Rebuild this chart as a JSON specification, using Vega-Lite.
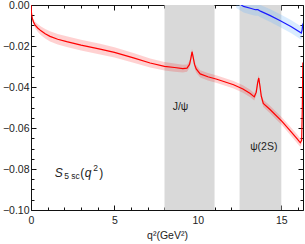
{
  "$schema": "https://vega.github.io/schema/vega-lite/v6.json",
  "width": 272,
  "height": 205,
  "autosize": {"type": "none"},
  "padding": {"left": 31, "top": 5, "right": 2, "bottom": 34},
  "config": {
    "view": {"stroke": "#111", "strokeWidth": 1},
    "font": "Liberation Sans",
    "axis": {"grid": false, "domain": false, "tickColor": "#111", "labelFont": "Liberation Sans", "labelColor": "#222", "labelFontSize": 10.5, "titleFont": "Liberation Sans", "titleFontWeight": "normal", "titleColor": "#222", "titleFontSize": 10.5, "labelFlush": false, "labelOverlap": false, "labelBound": false}
  },
  "datasets": {
    "red": [
      {"q2": 0, "y": 0, "lo": 0, "hi": 0},
      {"q2": 0.03, "y": -0.0040, "lo": -0.0046, "hi": -0.0034},
      {"q2": 0.08, "y": -0.0065, "lo": -0.0075, "hi": -0.0055},
      {"q2": 0.15, "y": -0.0083, "lo": -0.0096, "hi": -0.0070},
      {"q2": 0.25, "y": -0.0098, "lo": -0.0114, "hi": -0.0082},
      {"q2": 0.4, "y": -0.0112, "lo": -0.0131, "hi": -0.0093},
      {"q2": 0.6, "y": -0.0126, "lo": -0.0147, "hi": -0.0105},
      {"q2": 0.85, "y": -0.0140, "lo": -0.0163, "hi": -0.0117},
      {"q2": 1.14, "y": -0.0153, "lo": -0.0178, "hi": -0.0128},
      {"q2": 1.6, "y": -0.0167, "lo": -0.0193, "hi": -0.0141},
      {"q2": 2.14, "y": -0.0179, "lo": -0.0205, "hi": -0.0153},
      {"q2": 3.0, "y": -0.0196, "lo": -0.0222, "hi": -0.0170},
      {"q2": 4.14, "y": -0.0215, "lo": -0.0241, "hi": -0.0189},
      {"q2": 5.0, "y": -0.0231, "lo": -0.0256, "hi": -0.0206},
      {"q2": 6.14, "y": -0.0258, "lo": -0.0282, "hi": -0.0234},
      {"q2": 7.14, "y": -0.0283, "lo": -0.0305, "hi": -0.0261},
      {"q2": 8.0, "y": -0.0299, "lo": -0.0320, "hi": -0.0278},
      {"q2": 8.6, "y": -0.0305, "lo": -0.0325, "hi": -0.0285},
      {"q2": 9.1, "y": -0.0310, "lo": -0.0329, "hi": -0.0291},
      {"q2": 9.35, "y": -0.0308, "lo": -0.0326, "hi": -0.0290},
      {"q2": 9.5, "y": -0.0290, "lo": -0.0307, "hi": -0.0273},
      {"q2": 9.58, "y": -0.0260, "lo": -0.0276, "hi": -0.0244},
      {"q2": 9.65, "y": -0.0228, "lo": -0.0243, "hi": -0.0213},
      {"q2": 9.72, "y": -0.0255, "lo": -0.0271, "hi": -0.0239},
      {"q2": 9.8, "y": -0.0290, "lo": -0.0307, "hi": -0.0273},
      {"q2": 9.9, "y": -0.0312, "lo": -0.0330, "hi": -0.0294},
      {"q2": 10.14, "y": -0.0336, "lo": -0.0354, "hi": -0.0318},
      {"q2": 10.6, "y": -0.0350, "lo": -0.0368, "hi": -0.0332},
      {"q2": 11.14, "y": -0.0362, "lo": -0.0380, "hi": -0.0344},
      {"q2": 12.14, "y": -0.0389, "lo": -0.0407, "hi": -0.0371},
      {"q2": 12.7, "y": -0.0410, "lo": -0.0428, "hi": -0.0392},
      {"q2": 13.14, "y": -0.0432, "lo": -0.0450, "hi": -0.0414},
      {"q2": 13.38, "y": -0.0448, "lo": -0.0466, "hi": -0.0430},
      {"q2": 13.5, "y": -0.0425, "lo": -0.0442, "hi": -0.0408},
      {"q2": 13.58, "y": -0.0380, "lo": -0.0396, "hi": -0.0364},
      {"q2": 13.65, "y": -0.0356, "lo": -0.0371, "hi": -0.0341},
      {"q2": 13.72, "y": -0.0395, "lo": -0.0411, "hi": -0.0379},
      {"q2": 13.8, "y": -0.0445, "lo": -0.0462, "hi": -0.0428},
      {"q2": 13.92, "y": -0.0480, "lo": -0.0498, "hi": -0.0462},
      {"q2": 14.34, "y": -0.0511, "lo": -0.0529, "hi": -0.0493},
      {"q2": 15.04, "y": -0.0568, "lo": -0.0587, "hi": -0.0549},
      {"q2": 15.5, "y": -0.0610, "lo": -0.0630, "hi": -0.0590},
      {"q2": 15.94, "y": -0.0652, "lo": -0.0673, "hi": -0.0631},
      {"q2": 16.14, "y": -0.0672, "lo": -0.0693, "hi": -0.0651},
      {"q2": 16.22, "y": -0.0660, "lo": -0.0681, "hi": -0.0639},
      {"q2": 16.26, "y": -0.0500, "lo": -0.0521, "hi": -0.0479},
      {"q2": 16.29, "y": -0.0280, "lo": -0.0301, "hi": -0.0259}
    ],
    "blue": [
      {"q2": 12.3, "y": 0.0015, "lo": -0.0015, "hi": 0.0045},
      {"q2": 12.74, "y": -0.0007, "lo": -0.0037, "hi": 0.0023},
      {"q2": 13.2, "y": -0.0017, "lo": -0.0047, "hi": 0.0013},
      {"q2": 13.45, "y": -0.0023, "lo": -0.0053, "hi": 0.0007},
      {"q2": 13.6, "y": -0.0023, "lo": -0.0053, "hi": 0.0007},
      {"q2": 13.75, "y": -0.0030, "lo": -0.0060, "hi": 0.0000},
      {"q2": 14.34, "y": -0.0052, "lo": -0.0083, "hi": -0.0021},
      {"q2": 14.94, "y": -0.0077, "lo": -0.0109, "hi": -0.0045},
      {"q2": 15.6, "y": -0.0106, "lo": -0.0138, "hi": -0.0074},
      {"q2": 16.2, "y": -0.0137, "lo": -0.0169, "hi": -0.0105},
      {"q2": 16.25, "y": -0.0120, "lo": -0.0152, "hi": -0.0088},
      {"q2": 16.29, "y": -0.0090, "lo": -0.0122, "hi": -0.0058}
    ]
  },
  "resolve": {"axis": {"x": "independent", "y": "independent"}},
  "layer": [
    {
      "data": {"values": [{"a": 8, "b": 11}, {"a": 12.5, "b": 15}]},
      "mark": {"type": "rect", "color": "#d9d9d9"},
      "encoding": {
        "x": {"field": "a", "type": "quantitative", "scale": {"domain": [0, 16.3], "nice": false, "zero": false}, "axis": null},
        "x2": {"field": "b"}
      }
    },
    {
      "data": {"name": "red"},
      "mark": {"type": "area", "color": "#ff0000", "opacity": 0.18, "clip": true},
      "encoding": {
        "x": {"field": "q2", "type": "quantitative", "scale": {"domain": [0, 16.3], "nice": false, "zero": false},
          "axis": {"orient": "bottom", "values": [0,1,2,3,4,5,6,7,8,9,10,11,12,13,14,15,16],
            "labelExpr": "datum.value % 5 === 0 ? datum.label : ''",
            "tickSize": {"condition": {"test": "datum.value % 5 === 0", "value": -5}, "value": -3},
            "labelPadding": 10, "title": "q²(GeV²)", "titlePadding": 3}},
        "y": {"field": "lo", "type": "quantitative", "scale": {"domain": [-0.1, 0], "nice": false, "zero": false},
          "axis": {"orient": "left", "values": [0,-0.005,-0.01,-0.015,-0.02,-0.025,-0.03,-0.035,-0.04,-0.045,-0.05,-0.055,-0.06,-0.065,-0.07,-0.075,-0.08,-0.085,-0.09,-0.095,-0.1],
            "labelExpr": "round(datum.value*1000) % 20 === 0 ? format(datum.value, '.2f') : ''",
            "tickSize": {"condition": {"test": "round(datum.value*1000) % 20 === 0", "value": -5}, "value": -3},
            "labelPadding": 7, "title": null}},
        "y2": {"field": "hi"}
      }
    },
    {
      "data": {"name": "red"},
      "mark": {"type": "line", "color": "#ff0000", "strokeWidth": 1.2, "clip": true},
      "encoding": {
        "x": {"field": "q2", "type": "quantitative", "scale": {"domain": [0, 16.3], "nice": false, "zero": false},
          "axis": {"orient": "top", "values": [0,1,2,3,4,5,6,7,8,9,10,11,12,13,14,15,16], "labels": false,
            "tickSize": {"condition": {"test": "datum.value % 5 === 0", "value": -5}, "value": -3}, "title": null}},
        "y": {"field": "y", "type": "quantitative", "scale": {"domain": [-0.1, 0], "nice": false, "zero": false},
          "axis": {"orient": "right", "values": [0,-0.005,-0.01,-0.015,-0.02,-0.025,-0.03,-0.035,-0.04,-0.045,-0.05,-0.055,-0.06,-0.065,-0.07,-0.075,-0.08,-0.085,-0.09,-0.095,-0.1], "labels": false,
            "tickSize": {"condition": {"test": "round(datum.value*1000) % 20 === 0", "value": -5}, "value": -3}, "title": null}}
      }
    },
    {
      "data": {"name": "blue"},
      "mark": {"type": "area", "color": "#66b3ff", "opacity": 0.25, "clip": true},
      "encoding": {
        "x": {"field": "q2", "type": "quantitative", "scale": {"domain": [0, 16.3], "nice": false, "zero": false}, "axis": null},
        "y": {"field": "lo", "type": "quantitative", "scale": {"domain": [-0.1, 0], "nice": false, "zero": false}, "axis": null},
        "y2": {"field": "hi"}
      }
    },
    {
      "data": {"name": "blue"},
      "mark": {"type": "line", "color": "#1a1aff", "strokeWidth": 1.2, "clip": true},
      "encoding": {
        "x": {"field": "q2", "type": "quantitative", "scale": {"domain": [0, 16.3], "nice": false, "zero": false}, "axis": null},
        "y": {"field": "y", "type": "quantitative", "scale": {"domain": [-0.1, 0], "nice": false, "zero": false}, "axis": null}
      }
    },
    {
      "data": {"values": [{"x": 8.96, "y": -0.0498, "t": "J/ψ"}, {"x": 13.95, "y": -0.0693, "t": "ψ(2S)"}]},
      "mark": {"type": "text", "font": "Liberation Sans", "fontSize": 10.5, "color": "#222", "align": "center", "baseline": "middle"},
      "encoding": {
        "x": {"field": "x", "type": "quantitative", "scale": {"domain": [0, 16.3], "nice": false, "zero": false}, "axis": null},
        "y": {"field": "y", "type": "quantitative", "scale": {"domain": [-0.1, 0], "nice": false, "zero": false}, "axis": null},
        "text": {"field": "t"}
      }
    },
    {
      "data": {"values": [{"x": 1.42, "y": -0.08376, "t": "S"}, {"x": 3.22, "y": -0.08376, "t": "q"}]},
      "mark": {"type": "text", "font": "Liberation Sans", "fontSize": 12, "fontStyle": "italic", "color": "#222", "align": "left", "baseline": "alphabetic"},
      "encoding": {
        "x": {"field": "x", "type": "quantitative", "scale": {"domain": [0, 16.3], "nice": false, "zero": false}, "axis": null},
        "y": {"field": "y", "type": "quantitative", "scale": {"domain": [-0.1, 0], "nice": false, "zero": false}, "axis": null},
        "text": {"field": "t"}
      }
    },
    {
      "data": {"values": [{"x": 2.95, "y": -0.08376, "t": "("}, {"x": 4.09, "y": -0.08376, "t": ")"}]},
      "mark": {"type": "text", "font": "Liberation Sans", "fontSize": 12, "color": "#222", "align": "left", "baseline": "alphabetic"},
      "encoding": {
        "x": {"field": "x", "type": "quantitative", "scale": {"domain": [0, 16.3], "nice": false, "zero": false}, "axis": null},
        "y": {"field": "y", "type": "quantitative", "scale": {"domain": [-0.1, 0], "nice": false, "zero": false}, "axis": null},
        "text": {"field": "t"}
      }
    },
    {
      "data": {"values": [{"x": 1.99, "y": -0.08498, "t": "5 sc"}, {"x": 3.73, "y": -0.08083, "t": "2"}]},
      "mark": {"type": "text", "font": "Liberation Sans", "fontSize": 8.5, "color": "#222", "align": "left", "baseline": "alphabetic"},
      "encoding": {
        "x": {"field": "x", "type": "quantitative", "scale": {"domain": [0, 16.3], "nice": false, "zero": false}, "axis": null},
        "y": {"field": "y", "type": "quantitative", "scale": {"domain": [-0.1, 0], "nice": false, "zero": false}, "axis": null},
        "text": {"field": "t"}
      }
    }
  ]
}
